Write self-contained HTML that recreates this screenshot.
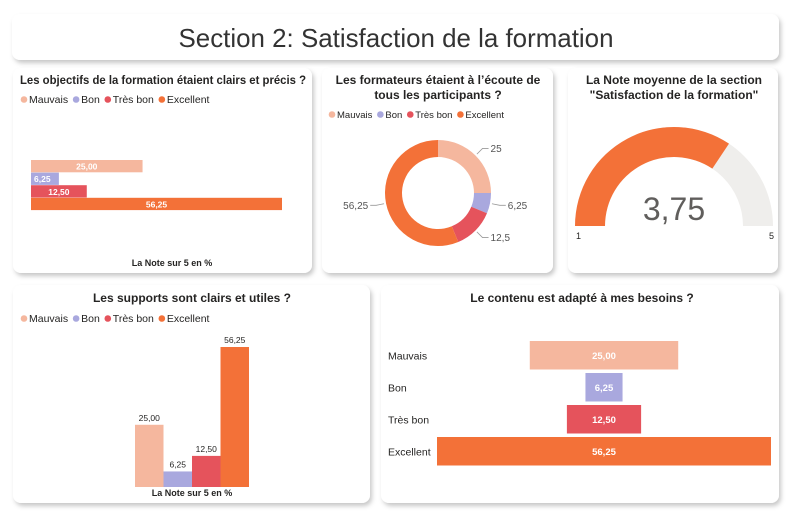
<!DOCTYPE html>
<html><head><meta charset="utf-8">
<style>
html,body{margin:0;padding:0;background:#fff;}
svg{display:block;font-family:"Liberation Sans",sans-serif;}
.t{font-weight:bold;font-size:12px;fill:#252423;}
</style></head>
<body>
<svg id="root" width="799" height="519" viewBox="0 0 799 519" xmlns="http://www.w3.org/2000/svg">
<defs>
<filter id="sh" x="-5%" y="-5%" width="112%" height="120%"><feDropShadow dx="2" dy="3" stdDeviation="2.5" flood-color="#000" flood-opacity="0.22"/></filter>
</defs>
<rect x="12" y="14" width="767" height="46" rx="8" fill="#fff" filter="url(#sh)"/>
<text x="396" y="47" text-anchor="middle" font-size="26" fill="#333" textLength="435" lengthAdjust="spacingAndGlyphs">Section 2: Satisfaction de la formation</text>

<rect x="13" y="68" width="299" height="205" rx="8" fill="#fff" filter="url(#sh)"/>
<rect x="322" y="68" width="231" height="205" rx="8" fill="#fff" filter="url(#sh)"/>
<rect x="568" y="68" width="210" height="205" rx="8" fill="#fff" filter="url(#sh)"/>
<rect x="13" y="285" width="357" height="218" rx="8" fill="#fff" filter="url(#sh)"/>
<rect x="381" y="285" width="398" height="218" rx="8" fill="#fff" filter="url(#sh)"/>

<text class="t" x="163" y="84" text-anchor="middle" font-size="11.5" textLength="286" lengthAdjust="spacingAndGlyphs">Les objectifs de la formation étaient clairs et précis ?</text>
<text class="t" x="438" y="84" text-anchor="middle">Les formateurs étaient à l’écoute de</text>
<text class="t" x="438" y="99" text-anchor="middle">tous les participants ?</text>
<text class="t" x="674" y="84" text-anchor="middle">La Note moyenne de la section</text>
<text class="t" x="674" y="99" text-anchor="middle">"Satisfaction de la formation"</text>
<text class="t" x="192" y="302" text-anchor="middle">Les supports sont clairs et utiles ?</text>
<text class="t" x="582" y="302" text-anchor="middle">Le contenu est adapté à mes besoins ?</text>

<text x="172" y="266" text-anchor="middle" font-size="9" font-weight="bold" fill="#252423">La Note sur 5 en %</text>
<text x="192" y="496" text-anchor="middle" font-size="9" font-weight="bold" fill="#252423">La Note sur 5 en %</text>
<g id="g"></g>
</svg>
<script>
const categories = ["Mauvais","Bon","Très bon","Excellent"];
const colors = ["#F5B79E","#A9A8DE","#E5535C","#F37138"];
const objectifsValues = [25.00, 6.25, 12.50, 56.25];
const formateursValues = [25, 6.25, 12.5, 56.25];
const supportsValues = [25.00, 6.25, 12.50, 56.25];
const contenuValues = [25.00, 6.25, 12.50, 56.25];
const gaugeValue = 3.75;
const gaugeMin = 1;
const gaugeMax = 5;

const NS="http://www.w3.org/2000/svg";
const g=document.getElementById('g');
function mk(tag,attrs,parent){const e=document.createElementNS(NS,tag);for(const k in attrs)e.setAttribute(k,attrs[k]);(parent||g).appendChild(e);return e;}
function txt(x,y,s,attrs){const e=mk('text',Object.assign({x:x,y:y},attrs||{}));e.textContent=s;return e;}
const fmt2=v=>v.toFixed(2).replace('.',',');
const fmtShort=v=>String(v).replace('.',',');

function legend(x,y,key,fs){
  let cx=x;
  categories.forEach((c,i)=>{
    const d=mk('circle',{cx:cx+3,cy:y-3.5,r:3.3,fill:colors[i]});
    
    
    const t=txt(cx+8,y,c,{'font-size':fs,fill:'#252423'});
    
    
    cx+=8+t.getComputedTextLength()+5;
  });
}
legend(21,103,'objectifs',10.5);
legend(329,118,'formateurs',9.5);
legend(21,322,'supports',10.5);

(function(){
  const x0=31, scale=251/56.25, y0=160, h=12.6;
  const xs=v=>v*scale;
  objectifsValues.forEach((v,i)=>{
    const r=mk('rect',{x:x0,y:y0+i*h,width:xs(v),height:h-0.3,fill:colors[i]});
    
    
    const w=xs(v);
    const t=txt(w>40?x0+w/2:x0+3,y0+i*h+h-3,fmt2(v),{'font-size':8.5,'font-weight':'bold',fill:'#fff','text-anchor':w>40?'middle':'start'});
    
    
  });
})();

(function(){
  const cx=438, cy=193, R=53, r=36;
  const total=formateursValues.reduce((a,b)=>a+b,0);
  let a0=-Math.PI/2;
  formateursValues.forEach((v,i)=>{
    const a1=a0+v/total*2*Math.PI;
    const large=(a1-a0)>Math.PI?1:0;
    const p=(ang,rad)=>[cx+rad*Math.cos(ang),cy+rad*Math.sin(ang)];
    const [x1,y1]=p(a0,R),[x2,y2]=p(a1,R),[x3,y3]=p(a1,r),[x4,y4]=p(a0,r);
    const path=mk('path',{d:`M${x1},${y1}A${R},${R} 0 ${large} 1 ${x2},${y2}L${x3},${y3}A${r},${r} 0 ${large} 0 ${x4},${y4}Z`,fill:colors[i]});
    
    
    const am=(a0+a1)/2;
    const [lx1,ly1]=p(am,R+2),[lx2,ly2]=p(am,R+10);
    const right=Math.cos(am)>=0;
    const lx3=lx2+(right?6:-6);
    const ln=mk('polyline',{points:`${lx1},${ly1} ${lx2},${ly2} ${lx3},${ly2}`,fill:'none',stroke:'#999','stroke-width':0.8});
    
    
    const t=txt(lx3+(right?2:-2),ly2+3.5,fmtShort(v),{'font-size':10,fill:'#555','text-anchor':right?'start':'end'});
    
    
    a0=a1;
  });
})();

(function(){
  const cx=674, cy=226, R=99, r=69;
  const arc=(f0,f1,fill,name)=>{
    const A0=Math.PI+f0*Math.PI, A1=Math.PI+f1*Math.PI;
    const p=(a,rad)=>[cx+rad*Math.cos(a),cy+rad*Math.sin(a)];
    const [x1,y1]=p(A0,R),[x2,y2]=p(A1,R),[x3,y3]=p(A1,r),[x4,y4]=p(A0,r);
    const e=mk('path',{d:`M${x1},${y1}A${R},${R} 0 0 1 ${x2},${y2}L${x3},${y3}A${r},${r} 0 0 0 ${x4},${y4}Z`,fill:fill});
    
    
  };
  const f=(gaugeValue-gaugeMin)/(gaugeMax-gaugeMin);
  arc(0,1,'#EFEEEC','gauge-track');
  arc(0,f,'#F37138','gauge-fill');
  const t=txt(cx,cy-6,gaugeValue.toFixed(2).replace('.',','),{'font-size':32,'font-weight':300,fill:'#605E5C','text-anchor':'middle'});
  
  
  const a=txt(cx-R+1,cy+13,String(gaugeMin),{'font-size':9,fill:'#252423'});
  
  
  const b=txt(cx+R-4,cy+13,String(gaugeMax),{'font-size':9,fill:'#252423'});
  
  
})();

(function(){
  const x0=135, bw=28.5, base=487, scale=140/56.25;
  supportsValues.forEach((v,i)=>{
    const h=v*scale;
    const r=mk('rect',{x:x0+i*bw,y:base-h,width:bw,height:h,fill:colors[i]});
    
    
    const t=txt(x0+i*bw+bw/2,base-h-4,fmt2(v),{'font-size':8.5,fill:'#252423','text-anchor':'middle'});
    
    
  });
})();

(function(){
  const cx=604, scale=334/56.25, y0=341, pitch=32, h=28.5;
  contenuValues.forEach((v,i)=>{
    const w=v*scale, y=y0+i*pitch;
    const r=mk('rect',{x:cx-w/2,y:y,width:w,height:h,fill:colors[i]});
    
    
    const t=txt(cx,y+h/2+3.5,fmt2(v),{'font-size':9.5,'font-weight':'bold',fill:'#fff','text-anchor':'middle'});
    
    
    const c=txt(388,y+h/2+4,categories[i],{'font-size':10.5,fill:'#252423'});
    
    
  });
})();
</script>
</body></html>
